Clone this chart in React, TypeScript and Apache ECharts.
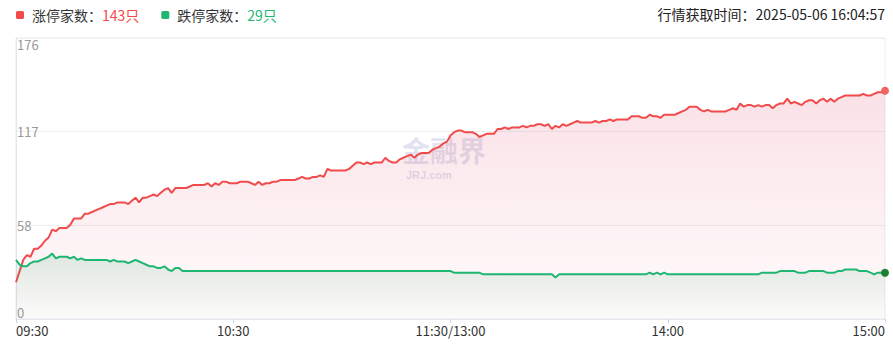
import React, { useEffect, useRef } from "react";
import * as echarts from "echarts";

// ---- data ----
const upSeriesName = "涨停家数";
const downSeriesName = "跌停家数";
const fetchTimeText = "行情获取时间：2025-05-06 16:04:57";

const tickIndexes = [0, 60, 120, 180, 240];
const tickLabels = ["09:30", "10:30", "11:30/13:00", "14:00", "15:00"];

const yMax = 176;

const upValues = [
  23, 30, 37, 40, 39, 44, 44, 46, 49, 51,
  56, 55, 57, 57, 57, 59, 63, 63, 63, 66,
  66, 67, 68, 69, 70, 71, 72, 72, 73, 73,
  73, 72, 74, 76, 73, 76, 76, 77, 78, 77,
  79, 81, 82, 79, 82, 82, 82, 82, 83, 84,
  84, 84, 84, 85, 83, 85, 84, 86, 86, 85,
  85, 85, 86, 86, 86, 85, 84, 86, 84, 85,
  85, 86, 86, 87, 87, 87, 87, 87, 88, 89,
  88, 88, 89, 89, 90, 89, 94, 93, 93, 93,
  93, 93, 94, 96, 98, 98, 97, 98, 97, 98,
  98, 98, 101, 99, 98, 98, 100, 101, 102, 103,
  101, 103, 104, 104, 104, 106, 107, 108, 110, 111,
  115, 117, 118, 118, 117, 117, 117, 116, 114, 115,
  116, 116, 116, 119, 119, 120, 119, 120, 120, 120,
  121, 120, 121, 121, 122, 122, 121, 122, 119, 121,
  120, 122, 121, 122, 123, 124, 123, 123, 123, 123,
  124, 123, 124, 124, 125, 124, 125, 125, 125, 125,
  127, 127, 127, 126, 126, 128, 127, 127, 126, 128,
  128, 128, 128, 129, 130, 131, 133, 133, 133, 131,
  130, 131, 130, 130, 130, 130, 130, 131, 132, 131,
  135, 133, 134, 134, 133, 134, 133, 134, 134, 132,
  134, 135, 135, 138, 135, 136, 135, 134, 136, 137,
  137, 135, 137, 138, 136, 138, 136, 138, 139, 140,
  140, 140, 140, 140, 141, 140, 140, 141, 142, 142,
  143,
];

const downValues = [
  37, 34, 33, 33, 35, 36, 36, 37, 38, 39,
  41, 38, 39, 39, 39, 38, 39, 37, 38, 37,
  37, 37, 37, 37, 37, 37, 36, 37, 36, 36,
  36, 35, 36, 37, 36, 35, 34, 33, 33, 32,
  32, 33, 31, 30, 32, 32, 30, 30, 30, 30,
  30, 30, 30, 30, 30, 30, 30, 30, 30, 30,
  30, 30, 30, 30, 30, 30, 30, 30, 30, 30,
  30, 30, 30, 30, 30, 30, 30, 30, 30, 30,
  30, 30, 30, 30, 30, 30, 30, 30, 30, 30,
  30, 30, 30, 30, 30, 30, 30, 30, 30, 30,
  30, 30, 30, 30, 30, 30, 30, 30, 30, 30,
  30, 30, 30, 30, 30, 30, 30, 30, 30, 30,
  30, 29, 29, 29, 29, 29, 29, 29, 29, 28,
  28, 28, 28, 28, 28, 28, 28, 28, 28, 28,
  28, 28, 28, 28, 28, 28, 28, 28, 28, 26,
  28, 28, 28, 28, 28, 28, 28, 28, 28, 28,
  28, 28, 28, 28, 28, 28, 28, 28, 28, 28,
  28, 28, 28, 28, 28, 29, 28, 29, 28, 29,
  28, 28, 28, 28, 28, 28, 28, 28, 28, 28,
  28, 28, 28, 28, 28, 28, 28, 28, 28, 28,
  28, 28, 28, 28, 28, 28, 29, 29, 29, 29,
  29, 30, 30, 30, 30, 30, 29, 29, 29, 30,
  30, 30, 30, 30, 29, 29, 29, 30, 30, 31,
  31, 31, 31, 30, 30, 30, 29, 28, 29, 29,
  29,
];

// minute categories: 09:30-11:30, 13:01-15:00
function buildTimes(): string[] {
  const out: string[] = [];
  const pad = (n: number) => (n < 10 ? "0" + n : String(n));
  for (let m = 9 * 60 + 30; m <= 11 * 60 + 30; m++) out.push(pad(Math.floor(m / 60)) + ":" + pad(m % 60));
  for (let m = 13 * 60 + 1; m <= 15 * 60; m++) out.push(pad(Math.floor(m / 60)) + ":" + pad(m % 60));
  return out;
}
const times = buildTimes();

const RED = "#f24b4b";
const GREEN = "#1fb672";
const SQUARE_ICON =
  "path://M1.5,0 H6.5 A1.5,1.5 0 0 1 8,1.5 V6.5 A1.5,1.5 0 0 1 6.5,8 H1.5 A1.5,1.5 0 0 1 0,6.5 V1.5 A1.5,1.5 0 0 1 1.5,0 Z";

export default function App() {
  const ref = useRef<HTMLDivElement>(null);
  useEffect(() => {
    document.body.style.margin = "0";
    if (!ref.current) return;
    const chart = echarts.init(ref.current, null, { renderer: "svg" });
    const lastUp = upValues[upValues.length - 1];
    const lastDown = downValues[downValues.length - 1];
    const lastIdx = times.length - 1;
    const isTick = (i: number) => tickIndexes.indexOf(i) >= 0;
    chart.setOption({
      animation: false,
      backgroundColor: "#fff",
      textStyle: { fontFamily: "'Noto Sans CJK SC', 'Noto Sans', sans-serif" },
      legend: {
        left: 11,
        top: 3,
        icon: SQUARE_ICON,
        itemWidth: 8,
        itemHeight: 8,
        itemGap: 22,
        selectedMode: false,
        data: [upSeriesName, downSeriesName],
        formatter: (name: string) =>
          name === upSeriesName
            ? `{n|${name}：}{r|${lastUp}只}`
            : `{n|${name}：}{g|${lastDown}只}`,
        textStyle: {
          fontSize: 14,
          color: "#333",
          padding: [0, 0, 0, 3],
          rich: {
            n: { fontSize: 14, color: "#333" },
            r: { fontSize: 14, color: RED },
            g: { fontSize: 14, color: GREEN },
          },
        },
      },
      graphic: [
        {
          type: "text",
          right: 8,
          top: 7,
          style: { text: fetchTimeText, fontSize: 14, fill: "#222", fontFamily: "'Noto Sans CJK SC', sans-serif" },
        },
        {
          type: "text",
          left: 402,
          top: 136,
          z: 0,
          style: {
            text: "金融界",
            fontSize: 28,
            lineHeight: 28,
            fontWeight: "bold",
            fill: "rgba(150,158,205,0.28)",
            fontFamily: "'Noto Sans CJK SC', sans-serif",
          },
        },
        {
          type: "text",
          left: 406,
          top: 169,
          z: 0,
          style: {
            text: "JRJ.com",
            fontSize: 11,
            lineHeight: 11,
            fontWeight: "bold",
            fill: "rgba(150,158,205,0.32)",
            fontFamily: "Arial, sans-serif",
          },
        },
      ],
      grid: {
        left: 16,
        right: 8,
        top: 38,
        bottom: 38,
        show: true,
        borderColor: "#ececec",
        borderWidth: 1,
        backgroundColor: "transparent",
      },
      xAxis: {
        type: "category",
        data: times,
        boundaryGap: false,
        axisLine: { lineStyle: { color: "#e3e6ee" } },
        axisTick: { show: true, interval: (i: number) => isTick(i), length: 4, lineStyle: { color: "#ccd6eb" } },
        axisLabel: {
          interval: (i: number) => isTick(i),
          formatter: (_v: string, i: number) => tickLabels[tickIndexes.indexOf(i)] ?? "",
          color: "#333",
          fontSize: 13,
          margin: 5,
          alignMinLabel: "left",
          alignMaxLabel: "right",
        },
        splitLine: { show: false },
      },
      yAxis: {
        type: "value",
        min: 0,
        max: yMax,
        interval: yMax / 3,
        axisLine: { show: true, lineStyle: { color: "#e3e6ee" } },
        axisTick: { show: false },
        axisLabel: {
          inside: true,
          margin: 1,
          color: "#999",
          fontSize: 13,
          formatter: (v: number) => String(Math.floor(v + 1e-6)),
          verticalAlignMinLabel: "bottom",
          verticalAlignMaxLabel: "top",
        },
        splitLine: { lineStyle: { color: "#eeeeee" } },
      },
      series: [
        {
          name: upSeriesName,
          type: "line",
          data: upValues,
          showSymbol: false,
          symbol: "circle",
          itemStyle: { color: RED },
          lineStyle: { color: RED, width: 2 },
          z: 3,
          areaStyle: {
            color: new echarts.graphic.LinearGradient(0, 0, 0, 1, [
              { offset: 0, color: "rgba(225,80,110,0.24)" },
              { offset: 1, color: "rgba(225,80,110,0.03)" },
            ]),
          },
          markPoint: {
            symbol: "circle",
            symbolSize: 8,
            label: { show: false },
            itemStyle: { color: "#f26363" },
            data: [{ coord: [lastIdx, lastUp] }],
          },
        },
        {
          name: downSeriesName,
          type: "line",
          data: downValues,
          showSymbol: false,
          symbol: "circle",
          itemStyle: { color: GREEN },
          lineStyle: { color: GREEN, width: 2 },
          z: 4,
          areaStyle: {
            color: new echarts.graphic.LinearGradient(0, 0, 0, 1, [
              { offset: 0, color: "rgba(40,150,90,0.2)" },
              { offset: 1, color: "rgba(40,150,90,0.01)" },
            ]),
          },
          markPoint: {
            symbol: "circle",
            symbolSize: 8,
            label: { show: false },
            itemStyle: { color: "#1d7f34" },
            data: [{ coord: [lastIdx, lastDown] }],
          },
        },
      ],
    });
    return () => chart.dispose();
  }, []);
  return <div ref={ref} style={{ width: 893, height: 357 }} />;
}
